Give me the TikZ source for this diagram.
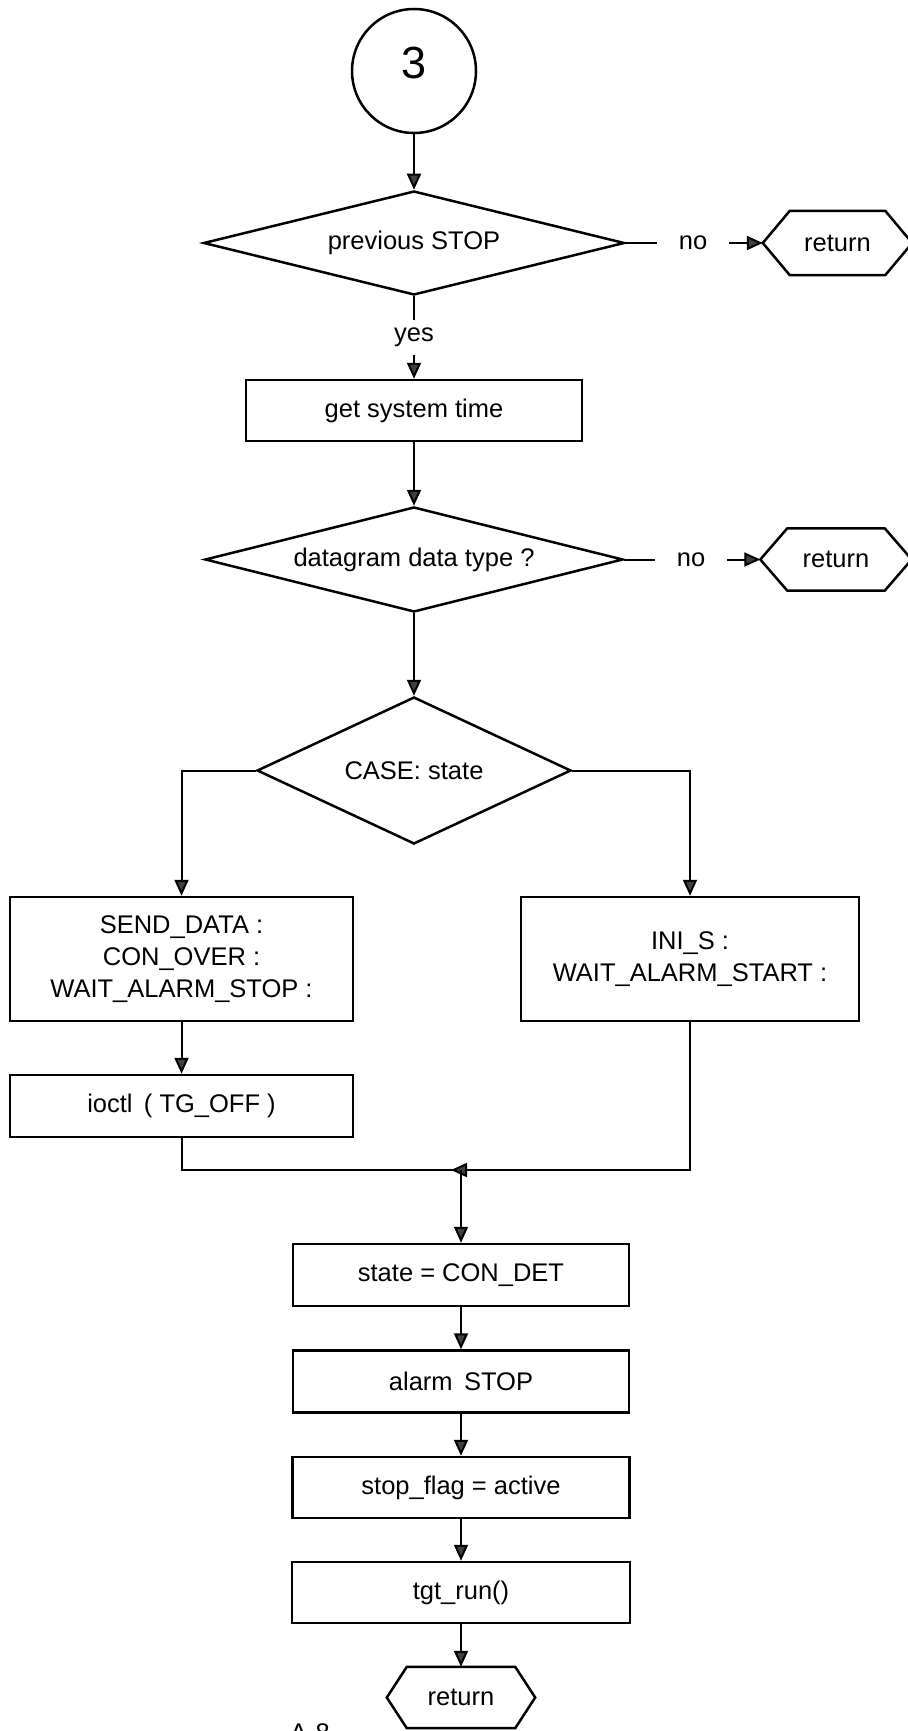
\documentclass[tikz,border=0pt]{standalone}
\usepackage{fontspec}
\setmainfont{Liberation Sans}
\usetikzlibrary{shapes.geometric,arrows.meta,calc}

% hexagonal terminator drawn around a plain text node: #1 node, #2 point depth
\newcommand\hexterm[2]{%
  \draw[shapeline] (#1.north west) -- (#1.north east) -- ($(#1.east)+(#2,0)$)
    -- (#1.south east) -- (#1.south west) -- ($(#1.west)-(#2,0)$) -- cycle;}

\begin{document}
\begin{tikzpicture}[x=1pt,y=-1pt,
  font=\fontsize{25.5}{32}\selectfont,
  shapeline/.style={draw=black,line width=2.5pt,line join=miter},
  procbox/.style={shapeline,rectangle,inner sep=0pt,align=center},
  decision/.style={shapeline,diamond,inner sep=0pt},
  termtext/.style={rectangle,inner sep=0pt},
  flow/.style={draw=black,line width=2pt},
  arrowto/.style={flow,-{Triangle[length=16pt,width=14pt,fill=black!75]}},
  nolabel/.style={inner xsep=22pt,inner ysep=0pt},
]
\useasboundingbox (0,0) rectangle (907,1731);

% entry connector
\node[shapeline,circle,minimum size=124pt,inner sep=0pt,
      label={[font=\fontsize{45}{54}\selectfont,yshift=8pt]center:3}] (c3) at (414,71) {};

% first test
\node[decision,aspect=4.05,minimum width=421pt,minimum height=104pt] (d1) at (414,243) {previous STOP};
\node[nolabel] (no1) at (693,243) {no};
\node[termtext,minimum width=95pt,minimum height=64pt] (r1) at (837.5,243) {return};
\hexterm{r1}{27}
\coordinate (r1tip) at ($(r1.west)-(27,0)$);

\node[inner sep=0pt,minimum height=35pt] (yes) at (414,337.5) {yes};
\node[procbox,minimum width=336pt,minimum height=61pt] (b1) at (414,410.5) {get system time};

% second test
\node[decision,aspect=3.98,minimum width=418pt,minimum height=105pt] (d2) at (414,559.5) {datagram data type ?};
\node[nolabel] (no2) at (691,559.5) {no};
\node[termtext,minimum width=97pt,minimum height=62pt] (r2) at (836,559.5) {return};
\hexterm{r2}{27}
\coordinate (r2tip) at ($(r2.west)-(27,0)$);

% state switch
\node[decision,aspect=2.14,minimum width=314pt,minimum height=147pt] (d3) at (414,770.5) {CASE: state};
\node[procbox,minimum width=343pt,minimum height=124pt] (bl) at (181.5,959)
  {SEND\_DATA :\\CON\_OVER :\\WAIT\_ALARM\_STOP :};
\node[procbox,minimum width=338pt,minimum height=124pt] (br) at (690,959)
  {INI\_S :\\WAIT\_ALARM\_START :};
\node[procbox,minimum width=343pt,minimum height=62pt] (bi) at (181.5,1106) {ioctl \,( TG\_OFF )};

\coordinate (j) at (461,1170);
\coordinate (jtip) at (451,1170);
\coordinate (jl) at (bi.south |- j);
\coordinate (jr) at (br.south |- j);
\coordinate (dl) at (bl.north |- d3.west);
\coordinate (dr) at (br.north |- d3.east);

% common tail
\node[procbox,minimum width=336pt,minimum height=62pt] (s1) at (461,1275) {state = CON\_DET};
\node[procbox,minimum width=336pt,minimum height=62pt] (s2) at (461,1381.5) {alarm \,STOP};
\node[procbox,minimum width=337pt,minimum height=61pt] (s3) at (461,1487.5) {stop\_flag = active};
\node[procbox,minimum width=338pt,minimum height=61pt] (s4) at (461,1592.5) {tgt\_run()};
\node[termtext,minimum width=108pt,minimum height=61pt] (r3) at (461,1697.5) {return};
\hexterm{r3}{20}

\node[anchor=base west,inner sep=0pt] (pg) at (290,1741) {A-8};

% connectors
\draw[arrowto] (c3.south) -- (d1.north);
\draw[flow] (d1.east) -- (no1.west);
\draw[arrowto] (no1.east) -- (r1tip);
\draw[flow] (d1.south) -- (yes.north);
\draw[arrowto] (yes.south) -- (b1.north);
\draw[arrowto] (b1.south) -- (d2.north);
\draw[flow] (d2.east) -- (no2.west);
\draw[arrowto] (no2.east) -- (r2tip);
\draw[arrowto] (d2.south) -- (d3.north);
\draw[arrowto] (d3.west) -- (dl) -- (bl.north);
\draw[arrowto] (d3.east) -- (dr) -- (br.north);
\draw[arrowto] (bl.south) -- (bi.north);
\draw[flow] (bi.south) -- (jl) -- (j);
\draw[arrowto] (br.south) -- (jr) -- (jtip);
\draw[arrowto] (j) -- (s1.north);
\draw[arrowto] (s1.south) -- (s2.north);
\draw[arrowto] (s2.south) -- (s3.north);
\draw[arrowto] (s3.south) -- (s4.north);
\draw[arrowto] (s4.south) -- (r3.north);
\end{tikzpicture}
\end{document}
